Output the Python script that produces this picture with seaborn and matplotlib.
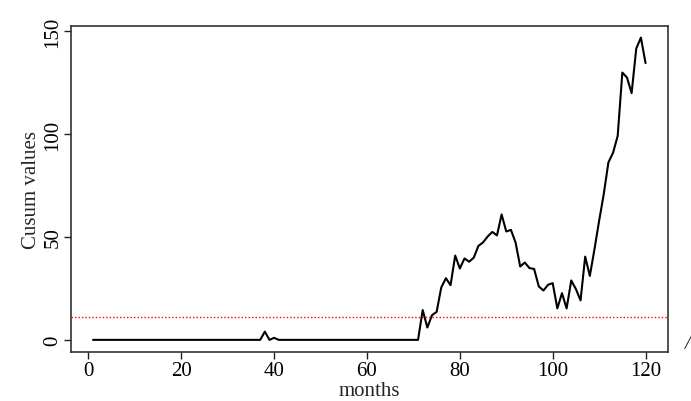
import numpy as np
import seaborn as sns
import matplotlib
matplotlib.use("Agg")
import matplotlib.pyplot as plt

# cusum values per month
months = list(range(1, 121))
cusum = [
    0, 0, 0, 0, 0, 0, 0, 0, 0, 0,
    0, 0, 0, 0, 0, 0, 0, 0, 0, 0,
    0, 0, 0, 0, 0, 0, 0, 0, 0, 0,
    0, 0, 0, 0, 0, 0, 0, 4, 0, 1,
    0, 0, 0, 0, 0, 0, 0, 0, 0, 0,
    0, 0, 0, 0, 0, 0, 0, 0, 0, 0,
    0, 0, 0, 0, 0, 0, 0, 0, 0, 0,
    0, 14.5, 6, 12, 13.6, 25.5, 30, 26.6, 41, 34.7,
    39.6, 38, 40, 45.7, 47.4, 50.3, 52.5, 50.8, 61, 52.7,
    53.5, 47.4, 35.7, 37.6, 34.9, 34.5, 26, 24, 26.8, 27.6,
    15.3, 22.7, 15.3, 28.9, 24.7, 19.2, 40.5, 31.1, 44.1, 57.9,
    70.9, 86.3, 91, 99.2, 130, 127.6, 120, 141.7, 147, 134.6,
]
threshold = 11
xticks = [0, 20, 40, 60, 80, 100, 120]
yticks = [0, 50, 100, 150]

sns.set_style("white")
plt.rcParams['font.family'] = ['Liberation Serif', 'DejaVu Serif']

fig = plt.figure(figsize=(6.91, 4.02), dpi=100)
ax = fig.add_axes([0.1027, 0.122, 0.8635, 0.812])

sns.lineplot(x=months, y=cusum, ax=ax, color="black", linewidth=1.5)
ax.axhline(threshold, color="red", linestyle=(0, (1, 1.5)), linewidth=1.0)

# R style 4% padding around the data range
xr = max(months) - min(months)
yr = max(cusum) - min(cusum)
ax.set_xlim(min(months) - 0.04 * xr, max(months) + 0.04 * xr)
ax.set_ylim(min(cusum) - 0.04 * yr, max(cusum) + 0.04 * yr)

ax.set_xticks(xticks)
ax.set_yticks(yticks)
ax.set_yticklabels([str(v) for v in yticks], rotation=90, va="center")
ax.tick_params(axis="both", direction="out", length=5, width=1.0,
               color="#222222", labelsize=15, labelcolor="black",
               bottom=True, left=True)
ax.tick_params(axis="x", pad=1.5)
ax.tick_params(axis="y", pad=1.0)

for s in ax.spines.values():
    s.set_visible(True)
    s.set_color("#333333")
    s.set_linewidth(1.2)

ax.set_xlabel("months", fontsize=15, labelpad=1)
ax.set_ylabel("Cusum values", fontsize=15, labelpad=2)

fig.text(0.995, 1 - 345 / 402, "/", fontsize=15, style="italic",
         ha="center", va="center")

fig.savefig("out.png", dpi=100)
